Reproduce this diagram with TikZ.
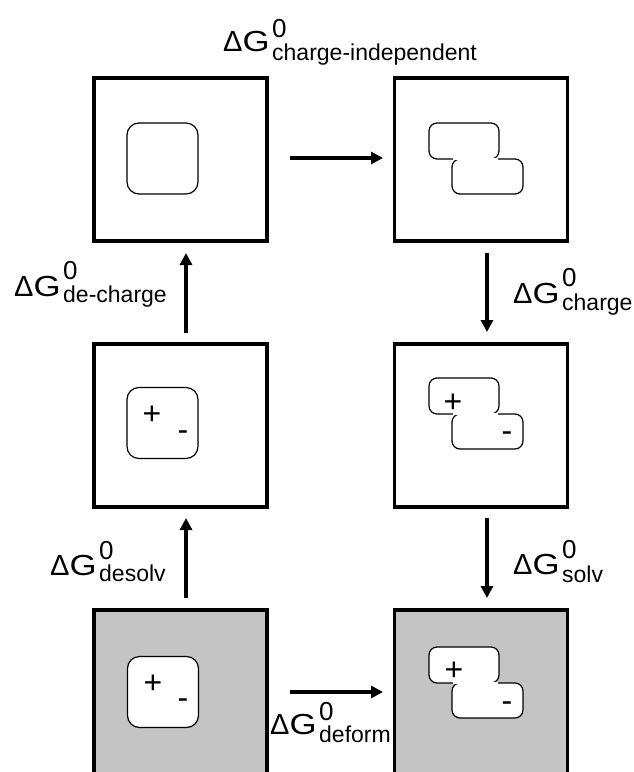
\documentclass[tikz,border=0pt]{standalone}
\usepackage{fontspec}
\usepackage{graphicx}
\setmainfont{Liberation Sans}
\usetikzlibrary{arrows.meta}
\definecolor{panelgray}{RGB}{196,196,196}
\newcommand{\dgl}[3]{%
\makebox[49pt][l]{\fontsize{29}{29}\selectfont Δ\scalebox{1.2}[1]{G}}%
\rlap{\raisebox{#2}{\fontsize{26}{26}\selectfont 0}}%
\raisebox{-#3}{\fontsize{23}{23}\selectfont #1}}
\newcommand{\zshape}[2]{% #1 unused, #2 top y
\fill[white,rounded corners=8pt] (429,#2) rectangle (499,#2+36);
\fill[white,rounded corners=8pt] (452,#2+36) rectangle (523,#2+71);
\draw[inner,rounded corners=8pt] (429,#2) rectangle (499,#2+36);
\draw[inner,rounded corners=8pt] (452,#2+36) rectangle (523,#2+71);
\fill[white] (452.9,#2+35) rectangle (498.1,#2+37);}
\begin{document}
\begin{tikzpicture}[x=1pt,y=-1pt,
  panel/.style={draw, line width=3.3pt, minimum width=173pt, minimum height=163pt, inner sep=0pt, outer sep=0pt},
  gpanel/.style={panel, fill=panelgray, minimum height=190pt},
  sq/.style={draw, fill=white, line width=1.2pt, rounded corners=12pt, minimum width=71pt, minimum height=71pt, inner sep=0pt},
  inner/.style={line width=1.2pt},
  sign/.style={inner sep=0pt, font=\fontsize{32}{32}\selectfont},
  lbl/.style={inner sep=0pt, anchor=base west},
  arr/.style={line width=3.3pt, -{Triangle[width=12pt,length=12pt]}}]
\useasboundingbox (0,0) rectangle (634,772);
\clip (0,0) rectangle (634,772);
% panels
\node[panel] (tl) at (180.5,159.5) {};
\node[panel] (tr) at (481,159.5) {};
\node[panel] (ml) at (180.5,425.5) {};
\node[panel] (mr) at (481,425.5) {};
\node[gpanel] (bl) at (180.5,705) {};
\node[gpanel] (br) at (481,705) {};
% inner squares
\node[sq] (s1) at (162.5,158.5) {};
\node[sq] (s2) at (162.5,423) {};
\node[sq] (s3) at (163,692) {};
% z shapes
\zshape{0}{123}
\zshape{0}{378}
\zshape{0}{647}
% signs
\node[sign] (p2) at (152,415) {+};
\node[sign] (m2) at (183,436) {-};
\node[sign] (p3) at (153,684) {+};
\node[sign] (m3) at (183,704) {-};
\node[sign] (p5) at (453,403) {+};
\node[sign] (m5) at (507,437) {-};
\node[sign] (p6) at (454,671) {+};
\node[sign] (m6) at (507,707) {-};
% arrows
\coordinate (a1s) at (290,158); \coordinate (a1e) at (383,158);
\coordinate (a2s) at (487,253); \coordinate (a2e) at (487,332);
\coordinate (a3s) at (487,518); \coordinate (a3e) at (487,598);
\coordinate (a4s) at (186,598); \coordinate (a4e) at (186,518);
\coordinate (a5s) at (186,333); \coordinate (a5e) at (186,253);
\coordinate (a6s) at (290,692); \coordinate (a6e) at (383,692);
\draw[arr] (a1s) -- (a1e);
\draw[arr] (a2s) -- (a2e);
\draw[arr] (a3s) -- (a3e);
\draw[arr] (a4s) -- (a4e);
\draw[arr] (a5s) -- (a5e);
\draw[arr] (a6s) -- (a6e);
% labels
\node[lbl] (l1) at (223,51) {\dgl{charge-independent}{14pt}{9pt}};
\node[lbl] (l2) at (14,296) {\dgl{de-charge}{17pt}{6pt}};
\node[lbl] (l3) at (513,303) {\dgl{charge}{17pt}{7pt}};
\node[lbl] (l4) at (50,575) {\dgl{desolv}{16pt}{6pt}};
\node[lbl] (l5) at (513,574) {\dgl{solv}{16pt}{8pt}};
\node[lbl] (l6) at (270,734) {\dgl{deform}{14pt}{8pt}};
\end{tikzpicture}
\end{document}
